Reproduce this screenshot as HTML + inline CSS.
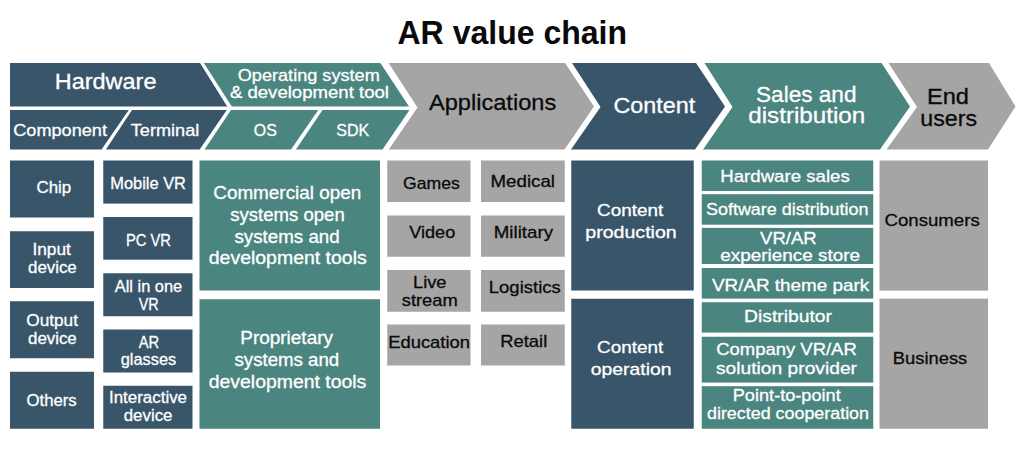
<!DOCTYPE html>
<html lang="en"><head><meta charset="utf-8"><title>AR value chain</title>
<style>html,body{margin:0;padding:0;background:#fff}svg{display:block}text{font-family:"Liberation Sans",sans-serif}</style></head><body>
<svg width="1024" height="460" viewBox="0 0 1024 460">
<rect x="0" y="0" width="1024" height="460" fill="#ffffff"/>
<polygon fill="#38556a" points="10,63 200,63 227.2,106.6 10,106.6"/>
<polygon fill="#38556a" points="10,110 128.8,110 101.5,149.6 10,149.6"/>
<polygon fill="#38556a" points="132,110 226.8,110 199.7,149.6 105.9,149.6"/>
<polygon fill="#4b8580" points="203.8,63 380.4,63 409,106.6 231.8,106.6"/>
<polygon fill="#4b8580" points="231,110 318.3,110 291,149.6 204.5,149.6"/>
<polygon fill="#4b8580" points="322.5,110 409.5,110 382.5,149.6 295.9,149.6"/>
<polygon fill="#a5a5a5" points="388.6,63 565,63 594,106.5 564.5,149.6 388.8,149.6 417.5,107.5"/>
<polygon fill="#38556a" points="572,63 696,63 725,106.5 695,149.6 571,149.6 600.5,107"/>
<polygon fill="#4b8580" points="704.5,63 881.5,63 910,106.5 880,149.6 703,149.6 732.5,107"/>
<polygon fill="#a5a5a5" points="888.5,63 989,63 1015.5,106.5 988,149.6 886.5,149.6 917,107"/>
<rect fill="#38556a" x="10" y="160.5" width="84" height="57"/>
<rect fill="#38556a" x="10" y="231.25" width="84" height="56.75"/>
<rect fill="#38556a" x="10" y="301.25" width="84" height="57"/>
<rect fill="#38556a" x="10" y="371.75" width="84" height="57"/>
<rect fill="#38556a" x="103.25" y="160.5" width="89.25" height="43.1"/>
<rect fill="#38556a" x="103.25" y="217" width="89.25" height="42.7"/>
<rect fill="#38556a" x="103.25" y="273.25" width="89.25" height="43"/>
<rect fill="#38556a" x="103.25" y="329.5" width="89.25" height="43"/>
<rect fill="#38556a" x="103.25" y="385.75" width="89.25" height="43"/>
<rect fill="#4b8580" x="199.5" y="160.5" width="180.5" height="130"/>
<rect fill="#4b8580" x="199.5" y="299.25" width="180.5" height="129.5"/>
<rect fill="#a5a5a5" x="387.25" y="160.5" width="83.25" height="41.5"/>
<rect fill="#a5a5a5" x="481" y="160.5" width="83.75" height="41.5"/>
<rect fill="#a5a5a5" x="387.25" y="215.5" width="83.25" height="41.25"/>
<rect fill="#a5a5a5" x="481" y="215.5" width="83.75" height="41.25"/>
<rect fill="#a5a5a5" x="387.25" y="270" width="83.25" height="41.75"/>
<rect fill="#a5a5a5" x="481" y="270" width="83.75" height="41.75"/>
<rect fill="#a5a5a5" x="387.25" y="324.5" width="83.25" height="41"/>
<rect fill="#a5a5a5" x="481" y="324.5" width="83.75" height="41"/>
<rect fill="#38556a" x="571.25" y="160.5" width="122.5" height="130"/>
<rect fill="#38556a" x="571.25" y="298.75" width="122.5" height="130"/>
<rect fill="#4b8580" x="701.75" y="160.5" width="171.5" height="30.5"/>
<rect fill="#4b8580" x="701.75" y="194.2" width="171.5" height="30.5"/>
<rect fill="#4b8580" x="701.75" y="227.9" width="171.5" height="36.1"/>
<rect fill="#4b8580" x="701.75" y="268" width="171.5" height="30.6"/>
<rect fill="#4b8580" x="701.75" y="302.2" width="171.5" height="30.4"/>
<rect fill="#4b8580" x="701.75" y="336.75" width="171.5" height="45.85"/>
<rect fill="#4b8580" x="701.75" y="386.2" width="171.5" height="42.55"/>
<rect fill="#a5a5a5" x="879.5" y="160.5" width="108.5" height="130.1"/>
<rect fill="#a5a5a5" x="879.5" y="298.6" width="108.5" height="130.15"/>
<text id="t0" x="512.25" y="43.60" font-size="33.5" font-weight="bold" fill="#0a0a0a" stroke="#0a0a0a" stroke-width="0" text-anchor="middle" textLength="229.50" lengthAdjust="spacingAndGlyphs">AR value chain</text>
<text id="t1" x="105.62" y="89.25" font-size="22" font-weight="normal" fill="#ffffff" stroke="#ffffff" stroke-width="0.3" text-anchor="middle" textLength="101.75" lengthAdjust="spacingAndGlyphs">Hardware</text>
<text id="t2" x="60.12" y="135.75" font-size="17" font-weight="normal" fill="#ffffff" stroke="#ffffff" stroke-width="0.3" text-anchor="middle" textLength="93.75" lengthAdjust="spacingAndGlyphs">Component</text>
<text id="t3" x="165.00" y="135.75" font-size="17" font-weight="normal" fill="#ffffff" stroke="#ffffff" stroke-width="0.3" text-anchor="middle" textLength="68.50" lengthAdjust="spacingAndGlyphs">Terminal</text>
<text id="t4" x="308.75" y="80.50" font-size="17" font-weight="normal" fill="#ffffff" stroke="#ffffff" stroke-width="0.3" text-anchor="middle" textLength="142.00" lengthAdjust="spacingAndGlyphs">Operating system</text>
<text id="t5" x="309.43" y="98.25" font-size="17" font-weight="normal" fill="#ffffff" stroke="#ffffff" stroke-width="0.3" text-anchor="middle" textLength="159.05" lengthAdjust="spacingAndGlyphs">&amp; development tool</text>
<text id="t6" x="265.25" y="135.75" font-size="17" font-weight="normal" fill="#ffffff" stroke="#ffffff" stroke-width="0.3" text-anchor="middle" textLength="23.00" lengthAdjust="spacingAndGlyphs">OS</text>
<text id="t7" x="352.75" y="135.75" font-size="17" font-weight="normal" fill="#ffffff" stroke="#ffffff" stroke-width="0.3" text-anchor="middle" textLength="33.00" lengthAdjust="spacingAndGlyphs">SDK</text>
<text id="t8" x="492.60" y="110.00" font-size="22" font-weight="normal" fill="#0a0a0a" stroke="#0a0a0a" stroke-width="0.3" text-anchor="middle" textLength="127.20" lengthAdjust="spacingAndGlyphs">Applications</text>
<text id="t9" x="654.38" y="112.50" font-size="22" font-weight="normal" fill="#ffffff" stroke="#ffffff" stroke-width="0.3" text-anchor="middle" textLength="81.75" lengthAdjust="spacingAndGlyphs">Content</text>
<text id="t10" x="806.25" y="101.75" font-size="22" font-weight="normal" fill="#ffffff" stroke="#ffffff" stroke-width="0.3" text-anchor="middle" textLength="100.50" lengthAdjust="spacingAndGlyphs">Sales and</text>
<text id="t11" x="806.75" y="123.25" font-size="22" font-weight="normal" fill="#ffffff" stroke="#ffffff" stroke-width="0.3" text-anchor="middle" textLength="117.00" lengthAdjust="spacingAndGlyphs">distribution</text>
<text id="t12" x="948.00" y="103.75" font-size="22" font-weight="normal" fill="#0a0a0a" stroke="#0a0a0a" stroke-width="0.3" text-anchor="middle" textLength="42.00" lengthAdjust="spacingAndGlyphs">End</text>
<text id="t13" x="948.62" y="125.50" font-size="22" font-weight="normal" fill="#0a0a0a" stroke="#0a0a0a" stroke-width="0.3" text-anchor="middle" textLength="56.75" lengthAdjust="spacingAndGlyphs">users</text>
<text id="t14" x="53.88" y="192.50" font-size="16.8" font-weight="normal" fill="#ffffff" stroke="#ffffff" stroke-width="0.3" text-anchor="middle" textLength="34.75" lengthAdjust="spacingAndGlyphs">Chip</text>
<text id="t15" x="51.65" y="255.00" font-size="16.8" font-weight="normal" fill="#ffffff" stroke="#ffffff" stroke-width="0.3" text-anchor="middle" textLength="38.50" lengthAdjust="spacingAndGlyphs">Input</text>
<text id="t16" x="52.38" y="272.50" font-size="16.8" font-weight="normal" fill="#ffffff" stroke="#ffffff" stroke-width="0.3" text-anchor="middle" textLength="48.75" lengthAdjust="spacingAndGlyphs">device</text>
<text id="t17" x="52.12" y="326.25" font-size="16.8" font-weight="normal" fill="#ffffff" stroke="#ffffff" stroke-width="0.3" text-anchor="middle" textLength="51.75" lengthAdjust="spacingAndGlyphs">Output</text>
<text id="t18" x="52.38" y="343.75" font-size="16.8" font-weight="normal" fill="#ffffff" stroke="#ffffff" stroke-width="0.3" text-anchor="middle" textLength="48.75" lengthAdjust="spacingAndGlyphs">device</text>
<text id="t19" x="51.62" y="405.50" font-size="16.8" font-weight="normal" fill="#ffffff" stroke="#ffffff" stroke-width="0.3" text-anchor="middle" textLength="50.25" lengthAdjust="spacingAndGlyphs">Others</text>
<text id="t20" x="148.12" y="188.75" font-size="16.8" font-weight="normal" fill="#ffffff" stroke="#ffffff" stroke-width="0.3" text-anchor="middle" textLength="75.75" lengthAdjust="spacingAndGlyphs">Mobile VR</text>
<text id="t21" x="148.50" y="246.25" font-size="16.8" font-weight="normal" fill="#ffffff" stroke="#ffffff" stroke-width="0.3" text-anchor="middle" textLength="45.00" lengthAdjust="spacingAndGlyphs">PC VR</text>
<text id="t22" x="148.50" y="292.00" font-size="16.8" font-weight="normal" fill="#ffffff" stroke="#ffffff" stroke-width="0.3" text-anchor="middle" textLength="67.50" lengthAdjust="spacingAndGlyphs">All in one</text>
<text id="t23" x="148.75" y="309.50" font-size="16.8" font-weight="normal" fill="#ffffff" stroke="#ffffff" stroke-width="0.3" text-anchor="middle" textLength="20.00" lengthAdjust="spacingAndGlyphs">VR</text>
<text id="t24" x="149.00" y="347.50" font-size="16.8" font-weight="normal" fill="#ffffff" stroke="#ffffff" stroke-width="0.3" text-anchor="middle" textLength="20.50" lengthAdjust="spacingAndGlyphs">AR</text>
<text id="t25" x="148.50" y="365.00" font-size="16.8" font-weight="normal" fill="#ffffff" stroke="#ffffff" stroke-width="0.3" text-anchor="middle" textLength="55.50" lengthAdjust="spacingAndGlyphs">glasses</text>
<text id="t26" x="148.00" y="403.00" font-size="16.8" font-weight="normal" fill="#ffffff" stroke="#ffffff" stroke-width="0.3" text-anchor="middle" textLength="78.00" lengthAdjust="spacingAndGlyphs">Interactive</text>
<text id="t27" x="148.12" y="420.50" font-size="16.8" font-weight="normal" fill="#ffffff" stroke="#ffffff" stroke-width="0.3" text-anchor="middle" textLength="48.75" lengthAdjust="spacingAndGlyphs">device</text>
<text id="t28" x="287.25" y="199.25" font-size="17.7" font-weight="normal" fill="#ffffff" stroke="#ffffff" stroke-width="0.3" text-anchor="middle" textLength="148.00" lengthAdjust="spacingAndGlyphs">Commercial open</text>
<text id="t29" x="287.50" y="221.25" font-size="17.7" font-weight="normal" fill="#ffffff" stroke="#ffffff" stroke-width="0.3" text-anchor="middle" textLength="114.50" lengthAdjust="spacingAndGlyphs">systems open</text>
<text id="t30" x="287.12" y="242.50" font-size="17.7" font-weight="normal" fill="#ffffff" stroke="#ffffff" stroke-width="0.3" text-anchor="middle" textLength="105.25" lengthAdjust="spacingAndGlyphs">systems and</text>
<text id="t31" x="287.75" y="264.25" font-size="17.7" font-weight="normal" fill="#ffffff" stroke="#ffffff" stroke-width="0.3" text-anchor="middle" textLength="158.00" lengthAdjust="spacingAndGlyphs">development tools</text>
<text id="t32" x="286.62" y="344.25" font-size="17.7" font-weight="normal" fill="#ffffff" stroke="#ffffff" stroke-width="0.3" text-anchor="middle" textLength="92.75" lengthAdjust="spacingAndGlyphs">Proprietary</text>
<text id="t33" x="286.88" y="366.25" font-size="17.7" font-weight="normal" fill="#ffffff" stroke="#ffffff" stroke-width="0.3" text-anchor="middle" textLength="104.75" lengthAdjust="spacingAndGlyphs">systems and</text>
<text id="t34" x="287.50" y="388.00" font-size="17.7" font-weight="normal" fill="#ffffff" stroke="#ffffff" stroke-width="0.3" text-anchor="middle" textLength="157.50" lengthAdjust="spacingAndGlyphs">development tools</text>
<text id="t35" x="431.38" y="188.75" font-size="17" font-weight="normal" fill="#0a0a0a" stroke="#0a0a0a" stroke-width="0.3" text-anchor="middle" textLength="56.75" lengthAdjust="spacingAndGlyphs">Games</text>
<text id="t36" x="522.75" y="186.75" font-size="17" font-weight="normal" fill="#0a0a0a" stroke="#0a0a0a" stroke-width="0.3" text-anchor="middle" textLength="64.50" lengthAdjust="spacingAndGlyphs">Medical</text>
<text id="t37" x="432.25" y="238.00" font-size="17" font-weight="normal" fill="#0a0a0a" stroke="#0a0a0a" stroke-width="0.3" text-anchor="middle" textLength="46.00" lengthAdjust="spacingAndGlyphs">Video</text>
<text id="t38" x="523.38" y="238.00" font-size="17" font-weight="normal" fill="#0a0a0a" stroke="#0a0a0a" stroke-width="0.3" text-anchor="middle" textLength="59.25" lengthAdjust="spacingAndGlyphs">Military</text>
<text id="t39" x="429.75" y="288.00" font-size="17" font-weight="normal" fill="#0a0a0a" stroke="#0a0a0a" stroke-width="0.3" text-anchor="middle" textLength="33.50" lengthAdjust="spacingAndGlyphs">Live</text>
<text id="t40" x="429.75" y="305.75" font-size="17" font-weight="normal" fill="#0a0a0a" stroke="#0a0a0a" stroke-width="0.3" text-anchor="middle" textLength="56.00" lengthAdjust="spacingAndGlyphs">stream</text>
<text id="t41" x="524.75" y="293.00" font-size="17" font-weight="normal" fill="#0a0a0a" stroke="#0a0a0a" stroke-width="0.3" text-anchor="middle" textLength="72.00" lengthAdjust="spacingAndGlyphs">Logistics</text>
<text id="t42" x="429.12" y="348.00" font-size="17" font-weight="normal" fill="#0a0a0a" stroke="#0a0a0a" stroke-width="0.3" text-anchor="middle" textLength="81.75" lengthAdjust="spacingAndGlyphs">Education</text>
<text id="t43" x="523.75" y="347.00" font-size="17" font-weight="normal" fill="#0a0a0a" stroke="#0a0a0a" stroke-width="0.3" text-anchor="middle" textLength="47.00" lengthAdjust="spacingAndGlyphs">Retail</text>
<text id="t44" x="630.12" y="215.50" font-size="17" font-weight="normal" fill="#ffffff" stroke="#ffffff" stroke-width="0.3" text-anchor="middle" textLength="66.25" lengthAdjust="spacingAndGlyphs">Content</text>
<text id="t45" x="631.00" y="237.50" font-size="17" font-weight="normal" fill="#ffffff" stroke="#ffffff" stroke-width="0.3" text-anchor="middle" textLength="91.50" lengthAdjust="spacingAndGlyphs">production</text>
<text id="t46" x="630.12" y="353.00" font-size="17" font-weight="normal" fill="#ffffff" stroke="#ffffff" stroke-width="0.3" text-anchor="middle" textLength="66.25" lengthAdjust="spacingAndGlyphs">Content</text>
<text id="t47" x="631.12" y="374.50" font-size="17" font-weight="normal" fill="#ffffff" stroke="#ffffff" stroke-width="0.3" text-anchor="middle" textLength="80.75" lengthAdjust="spacingAndGlyphs">operation</text>
<text id="t48" x="785.00" y="181.75" font-size="17" font-weight="normal" fill="#ffffff" stroke="#ffffff" stroke-width="0.3" text-anchor="middle" textLength="129.50" lengthAdjust="spacingAndGlyphs">Hardware sales</text>
<text id="t49" x="787.25" y="214.50" font-size="17" font-weight="normal" fill="#ffffff" stroke="#ffffff" stroke-width="0.3" text-anchor="middle" textLength="162.50" lengthAdjust="spacingAndGlyphs">Software distribution</text>
<text id="t50" x="788.38" y="244.25" font-size="17" font-weight="normal" fill="#ffffff" stroke="#ffffff" stroke-width="0.3" text-anchor="middle" textLength="56.75" lengthAdjust="spacingAndGlyphs">VR/AR</text>
<text id="t51" x="790.12" y="260.50" font-size="17" font-weight="normal" fill="#ffffff" stroke="#ffffff" stroke-width="0.3" text-anchor="middle" textLength="139.75" lengthAdjust="spacingAndGlyphs">experience store</text>
<text id="t52" x="790.62" y="290.75" font-size="17" font-weight="normal" fill="#ffffff" stroke="#ffffff" stroke-width="0.3" text-anchor="middle" textLength="157.25" lengthAdjust="spacingAndGlyphs">VR/AR theme park</text>
<text id="t53" x="788.00" y="321.75" font-size="17" font-weight="normal" fill="#ffffff" stroke="#ffffff" stroke-width="0.3" text-anchor="middle" textLength="88.00" lengthAdjust="spacingAndGlyphs">Distributor</text>
<text id="t54" x="786.50" y="355.00" font-size="17" font-weight="normal" fill="#ffffff" stroke="#ffffff" stroke-width="0.3" text-anchor="middle" textLength="140.50" lengthAdjust="spacingAndGlyphs">Company VR/AR</text>
<text id="t55" x="786.50" y="373.75" font-size="17" font-weight="normal" fill="#ffffff" stroke="#ffffff" stroke-width="0.3" text-anchor="middle" textLength="141.00" lengthAdjust="spacingAndGlyphs">solution provider</text>
<text id="t56" x="786.75" y="400.75" font-size="17" font-weight="normal" fill="#ffffff" stroke="#ffffff" stroke-width="0.3" text-anchor="middle" textLength="108.00" lengthAdjust="spacingAndGlyphs">Point-to-point</text>
<text id="t57" x="788.00" y="419.25" font-size="17" font-weight="normal" fill="#ffffff" stroke="#ffffff" stroke-width="0.3" text-anchor="middle" textLength="162.00" lengthAdjust="spacingAndGlyphs">directed cooperation</text>
<text id="t58" x="932.12" y="226.25" font-size="17" font-weight="normal" fill="#0a0a0a" stroke="#0a0a0a" stroke-width="0.3" text-anchor="middle" textLength="95.25" lengthAdjust="spacingAndGlyphs">Consumers</text>
<text id="t59" x="930.00" y="363.75" font-size="17" font-weight="normal" fill="#0a0a0a" stroke="#0a0a0a" stroke-width="0.3" text-anchor="middle" textLength="74.50" lengthAdjust="spacingAndGlyphs">Business</text>
</svg></body></html>
